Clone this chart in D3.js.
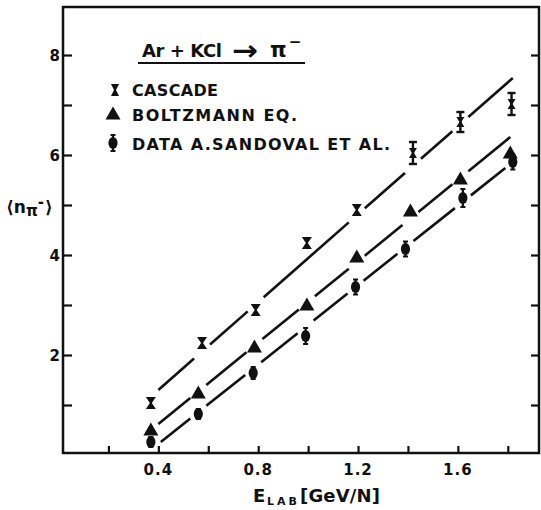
<!DOCTYPE html>
<html><head><meta charset="utf-8">
<script src="https://cdn.jsdelivr.net/npm/d3@7/dist/d3.min.js"></script>
<style>
html,body{margin:0;padding:0;background:#fff;}
svg{display:block;}
text{font-family:"DejaVu Sans",sans-serif;font-weight:bold;fill:#111;}
</style></head>
<body>
<svg id="chart" width="541" height="510"></svg>
<script>
// ---- data ----
const xTicks = [0.2, 0.4, 0.6, 0.8, 1.0, 1.2, 1.4, 1.6, 1.8];
const xTickLabels = ["0.4", "0.8", "1.2", "1.6"];
const xLabelValues = [0.4, 0.8, 1.2, 1.6];
const yTicks = [1, 2, 3, 4, 5, 6, 7, 8];
const yTickLabels = ["2", "4", "6", "8"];
const yLabelValues = [2, 4, 6, 8];

const energyCascade = [0.37, 0.575, 0.79, 0.995, 1.195, 1.42, 1.61, 1.815];
const cascade       = [1.04, 2.24, 2.90, 4.24, 4.90, 6.04, 6.66, 7.02];
const cascadeErr    = [0.10, 0.10, 0.10, 0.10, 0.10, 0.22, 0.20, 0.22];

const energyBoltz   = [0.37, 0.56, 0.785, 0.995, 1.195, 1.41, 1.61, 1.81];
const boltzmann     = [0.50, 1.24, 2.16, 3.00, 3.96, 4.88, 5.52, 6.04];

const energyData    = [0.37, 0.56, 0.78, 0.99, 1.19, 1.39, 1.62, 1.82];
const sandoval      = [0.26, 0.82, 1.64, 2.38, 3.36, 4.12, 5.14, 5.86];
const sandovalErr   = [0.10, 0.10, 0.12, 0.16, 0.15, 0.15, 0.18, 0.15];

const fitCascadeX = [0.40, 1.82], fitCascadeY = [1.30, 7.54];
const fitBoltzX   = [0.40, 1.81], fitBoltzY   = [0.62, 6.36];
const fitDataX    = [0.41, 1.79], fitDataY    = [0.26, 5.74];

const legendLabels = ["CASCADE", "BOLTZMANN EQ.", "DATA A.SANDOVAL ET AL."];

// ---- drawing ----
const svg = d3.select("#chart");
const x = d3.scaleLinear().domain([0.018, 1.925]).range([63, 539]);
const y = d3.scaleLinear().domain([0.04, 8.96]).range([453, 7]);
const ink = "#111";

// frame
svg.append("rect").attr("x", x.range()[0]).attr("y", y.range()[1])
  .attr("width", x.range()[1] - x.range()[0]).attr("height", y.range()[0] - y.range()[1])
  .attr("fill", "none").attr("stroke", ink).attr("stroke-width", 2.5);

// axes (ticks inward)
const xAxis = d3.axisTop(x).tickValues(xTicks).tickSize(7).tickFormat("");
svg.append("g").attr("transform", `translate(0,${y.range()[0]})`).call(xAxis)
  .call(g => g.select(".domain").remove())
  .selectAll("line").attr("stroke", ink).attr("stroke-width", 2.2);
const yAxisL = d3.axisRight(y).tickValues(yTicks).tickSize(9).tickFormat("");
svg.append("g").attr("transform", `translate(${x.range()[0]},0)`).call(yAxisL)
  .call(g => g.select(".domain").remove())
  .selectAll("line").attr("stroke", ink).attr("stroke-width", 2.2);
const yAxisR = d3.axisLeft(y).tickValues(yTicks).tickSize(8).tickFormat("");
svg.append("g").attr("transform", `translate(${x.range()[1]},0)`).call(yAxisR)
  .call(g => g.select(".domain").remove())
  .selectAll("line").attr("stroke", ink).attr("stroke-width", 2.2);

// tick labels
svg.selectAll(".xl").data(xLabelValues).enter().append("text")
  .attr("x", d => x(d)).attr("y", 475).attr("text-anchor", "middle")
  .attr("font-size", 15).attr("letter-spacing", 1)
  .text((d, i) => xTickLabels[i]);
svg.selectAll(".yl").data(yLabelValues).enter().append("text")
  .attr("x", 60).attr("y", d => y(d) + 5.5).attr("text-anchor", "end")
  .attr("font-size", 15)
  .text((d, i) => yTickLabels[i]);

// axis titles
svg.append("text").attr("x", 253).attr("y", 502).attr("font-size", 18).text("E");
svg.append("text").attr("x", 267).attr("y", 505).attr("font-size", 11)
  .attr("textLength", 30).attr("lengthAdjust", "spacing").text("LAB");
svg.append("text").attr("x", 300).attr("y", 502).attr("font-size", 18)
  .attr("textLength", 80).attr("lengthAdjust", "spacing").text("[GeV/N]");

const yt = svg.append("text").attr("x", 6).attr("y", 213).attr("font-size", 17);
yt.append("tspan").text("⟨n");
yt.append("tspan").attr("font-size", 15).attr("dy", 3).text("π");
yt.append("tspan").attr("font-size", 15).attr("dy", -9).text("-");
yt.append("tspan").attr("dy", 6).attr("dx", 1).text("⟩");

// fit lines with gaps at markers
function drawFit(fx, fy, ex, ev) {
  const f = d3.scaleLinear().domain(fx).range(fy);
  const p0 = x(fx[0]), p1 = x(fx[1]);
  const gap = 8;
  const gaps = [];
  ex.forEach((e, i) => {
    const px = x(e);
    if (px > p0 + gap && px < p1 - gap && Math.abs(y(ev[i]) - y(f(e))) < 14) gaps.push(px);
  });
  let start = p0;
  const segs = [];
  gaps.forEach(g => { segs.push([start, g - gap]); start = g + gap; });
  segs.push([start, p1]);
  svg.append("g").selectAll("line").data(segs).enter().append("line")
    .attr("x1", d => d[0]).attr("x2", d => d[1])
    .attr("y1", d => y(f(x.invert(d[0])))).attr("y2", d => y(f(x.invert(d[1]))))
    .attr("stroke", ink).attr("stroke-width", 2.6);
}
drawFit(fitCascadeX, fitCascadeY, energyCascade, cascade);
drawFit(fitBoltzX, fitBoltzY, energyBoltz, boltzmann);
drawFit(fitDataX, fitDataY, energyData, sandoval);

// marker shapes
function hourglass(cx, cy, w, h) {
  return `M${cx - w},${cy - h}L${cx + w},${cy - h}L${cx + 1},${cy}L${cx + w},${cy + h}L${cx - w},${cy + h}L${cx - 1},${cy}Z`;
}
function tri(cx, cy) {
  return `M${cx},${cy - 7.5}L${cx + 7.5},${cy + 5.5}L${cx - 7.5},${cy + 5.5}Z`;
}
function drawCascade(g, cx, cy, errPx) {
  if (errPx > 7) {
    g.append("line").attr("x1", cx).attr("x2", cx).attr("y1", cy - errPx).attr("y2", cy + errPx)
      .attr("stroke", ink).attr("stroke-width", 2.4);
    [cy - errPx, cy + errPx].forEach(v => g.append("line").attr("x1", cx - 4).attr("x2", cx + 4)
      .attr("y1", v).attr("y2", v).attr("stroke", ink).attr("stroke-width", 2.4));
    g.append("path").attr("d", hourglass(cx, cy, 4, 5)).attr("fill", ink);
  } else {
    g.append("path").attr("d", hourglass(cx, cy, 5, 6)).attr("fill", ink);
  }
}
function drawDiamond(g, cx, cy, errPx) {
  g.append("line").attr("x1", cx).attr("x2", cx).attr("y1", cy - errPx).attr("y2", cy + errPx)
    .attr("stroke", ink).attr("stroke-width", 2.2);
  [cy - errPx, cy + errPx].forEach(v => g.append("line").attr("x1", cx - 2.5).attr("x2", cx + 2.5)
    .attr("y1", v).attr("y2", v).attr("stroke", ink).attr("stroke-width", 2));
  g.append("ellipse").attr("cx", cx).attr("cy", cy).attr("rx", 4.6).attr("ry", 6).attr("fill", ink);
}

const gc = svg.append("g");
energyCascade.forEach((e, i) => drawCascade(gc, x(e), y(cascade[i]), y(0) - y(cascadeErr[i])));
const gb = svg.append("g");
gb.selectAll("path").data(energyBoltz).enter().append("path")
  .attr("d", (e, i) => tri(x(e), y(boltzmann[i]))).attr("fill", ink);
const gd = svg.append("g");
energyData.forEach((e, i) => drawDiamond(gd, x(e), y(sandoval[i]), y(0) - y(sandovalErr[i])));

// title
const title = svg.append("g");
title.append("text").attr("x", 142).attr("y", 57).attr("font-size", 18)
  .attr("textLength", 80).attr("lengthAdjust", "spacing").text("Ar + KCl");
title.append("text").attr("x", 232).attr("y", 60).attr("font-size", 28)
  .attr("textLength", 26).attr("lengthAdjust", "spacingAndGlyphs").text("→");
const pi = title.append("text").attr("x", 270).attr("y", 57).attr("font-size", 21);
pi.append("tspan").text("π");
pi.append("tspan").attr("font-size", 15).attr("dy", -10).attr("dx", 2).text("−");
title.append("line").attr("x1", 138).attr("x2", 305).attr("y1", 63).attr("y2", 63)
  .attr("stroke", ink).attr("stroke-width", 2.2);

// legend
const lg = svg.append("g");
const legY = [96, 121, 150];
const legW = [86, 165, 258];
legendLabels.forEach((t, i) => {
  lg.append("text").attr("x", 132).attr("y", legY[i]).attr("font-size", 16)
    .attr("textLength", legW[i]).attr("lengthAdjust", "spacing").text(t);
});
lg.append("path").attr("d", hourglass(115, 90, 4, 6)).attr("fill", ink);
lg.append("path").attr("d", tri(113, 114)).attr("fill", ink);
drawDiamond(lg, 113, 143, 8);
</script>
</body></html>
